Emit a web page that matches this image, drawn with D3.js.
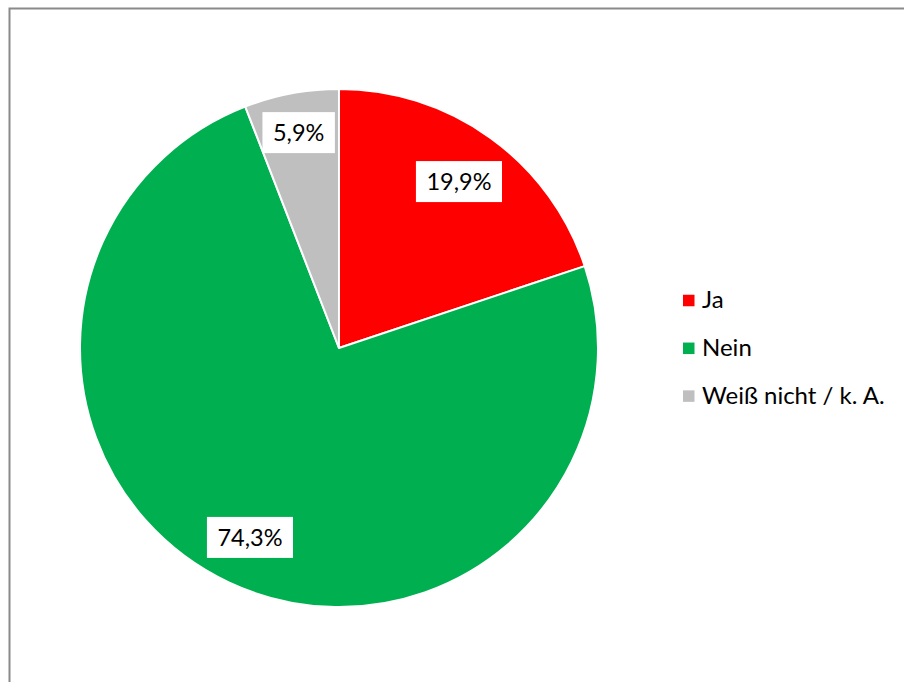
<!DOCTYPE html>
<html>
<head>
<meta charset="utf-8">
<script src="https://cdn.jsdelivr.net/npm/d3@7"></script>
<style>
  html, body { margin: 0; padding: 0; background: #fff; }
  svg { display: block; }
  text { font-family: Lato, "Open Sans", sans-serif; fill: #000; }
</style>
</head>
<body>
<svg id="chart" width="904" height="682"></svg>
<script>
// Answer categories, shares in percent and slice colours
const categories = ["Ja", "Nein", "Weiß nicht / k. A."];
const values = [19.9, 74.3, 5.9];
const colors = ["#FF0000", "#00B050", "#BFBFBF"];

const fmt = v => d3.format(".1f")(v).replace(".", ",") + "%";

const svg = d3.select("#chart");
const W = 904, H = 682;

// chart frame
svg.append("rect")
  .attr("x", 9.5).attr("y", 8.5)
  .attr("width", W + 10).attr("height", H + 10)
  .attr("fill", "#fff")
  .attr("stroke", "#8a8a8a").attr("stroke-width", 2);

const cx = 339, cy = 348, R = 259;

const pie = d3.pie().sort(null).value(d => d.value);
const arcs = pie(categories.map((c, i) => ({ name: c, value: values[i], color: colors[i] })));
const arc = d3.arc().innerRadius(0).outerRadius(R);

const g = svg.append("g").attr("transform", `translate(${cx},${cy})`);

g.selectAll("path.slice")
  .data(arcs)
  .join("path")
  .attr("class", "slice")
  .attr("d", arc)
  .attr("fill", d => d.data.color)
  .attr("stroke", "#fff")
  .attr("stroke-width", 2)
  .attr("stroke-linejoin", "round");

// data labels in white boxes, pushed out along the mid-angle
// until the outermost box corner sits just inside the rim
const labelFont = 23.5;
const padX = 10.5, boxH = 41, inset = 11;

const labels = g.selectAll("g.lbl")
  .data(arcs)
  .join("g")
  .attr("class", "lbl");

labels.each(function (d) {
  const sel = d3.select(this);
  const rect = sel.append("rect").attr("fill", "#fff");
  const t = sel.append("text")
    .attr("text-anchor", "middle")
    .attr("font-size", labelFont)
    .text(fmt(d.data.value));
  const bb = t.node().getBBox();
  const bw = bb.width + 2 * padX, bh = boxH;
  const a = (d.startAngle + d.endAngle) / 2;
  const ux = Math.sin(a), uy = -Math.cos(a);
  const hx = Math.sign(ux) * bw / 2, hy = Math.sign(uy) * bh / 2;
  const target = R - inset;
  // solve |d*u + h| = target for d
  const b = 2 * (ux * hx + uy * hy);
  const c = hx * hx + hy * hy - target * target;
  const dist = (-b + Math.sqrt(b * b - 4 * c)) / 2;
  const px = ux * dist, py = uy * dist;
  rect.attr("x", px - bw / 2).attr("y", py - bh / 2)
    .attr("width", bw).attr("height", bh);
  t.attr("x", px).attr("y", py + labelFont * 0.36);
});

// legend
const legendX = 683, legendY0 = 300.5, legendStep = 47.8, sq = 11.5;
const legend = svg.append("g");
const items = legend.selectAll("g")
  .data(categories)
  .join("g")
  .attr("transform", (d, i) => `translate(${legendX},${legendY0 + i * legendStep})`);
items.append("rect")
  .attr("x", 0).attr("y", -sq / 2)
  .attr("width", sq).attr("height", sq)
  .attr("fill", (d, i) => colors[i]);
items.append("text")
  .attr("x", 19).attr("y", 7.5)
  .attr("font-size", 24)
  .text(d => d);
</script>
</body>
</html>
